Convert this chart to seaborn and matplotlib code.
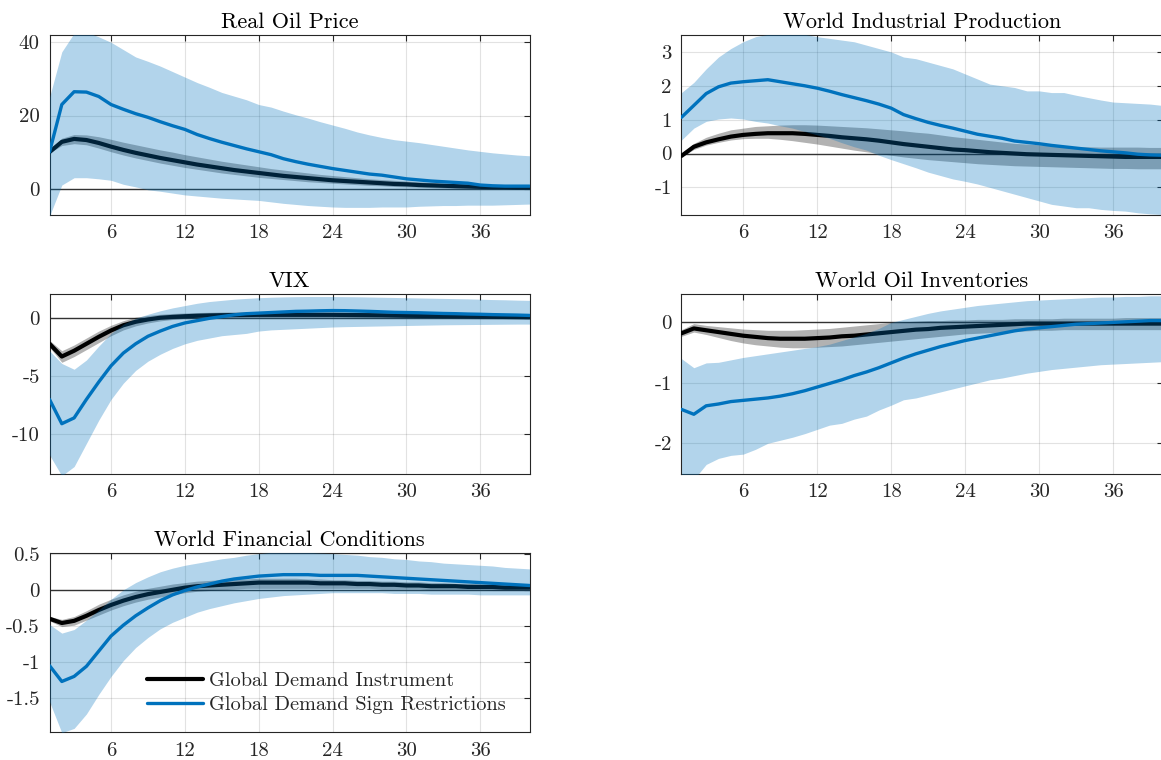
import numpy as np
import pandas as pd
import matplotlib
matplotlib.use("Agg")
import matplotlib.pyplot as plt
import seaborn as sns

# horizons
horizon = list(range(1, 41))

# ---- Real Oil Price ----
oil_inst = [10, 12.8, 13.6, 13.3, 12.5, 11.5, 10.6, 9.8, 9.1, 8.4, 7.8, 7.2, 6.6, 6.1, 5.6, 5.1, 4.7, 4.3, 3.9, 3.5,
            3.2, 2.9, 2.6, 2.3, 2.1, 1.9, 1.7, 1.5, 1.3, 1.2, 1.0, 0.9, 0.8, 0.7, 0.6, 0.5, 0.4, 0.4, 0.3, 0.3]
oil_inst_hi = [10.2, 13.8, 14.8, 14.7, 14.2, 13.5, 12.7, 12.0, 11.3, 10.6, 10.0, 9.3, 8.7, 8.1, 7.5, 7.0, 6.5, 6.0, 5.5, 5.1,
               4.7, 4.3, 3.9, 3.6, 3.3, 3.0, 2.7, 2.5, 2.3, 2.1, 1.9, 1.7, 1.5, 1.4, 1.2, 1.1, 1.0, 0.9, 0.8, 0.7]
oil_inst_lo = [9.8, 11.8, 12.3, 12.0, 11.1, 10.1, 9.2, 8.4, 7.7, 7.0, 6.4, 5.8, 5.3, 4.8, 4.3, 3.9, 3.5, 3.1, 2.8, 2.5,
               2.2, 1.9, 1.7, 1.5, 1.3, 1.1, 0.9, 0.8, 0.6, 0.5, 0.4, 0.3, 0.2, 0.1, 0.1, 0.0, 0.0, -0.1, -0.1, -0.1]
oil_sign = [10, 23, 26.5, 26.4, 25.2, 23, 21.7, 20.5, 19.5, 18.3, 17.2, 16.2, 14.8, 13.7, 12.7, 11.8, 10.9, 10.1, 9.3, 8.2,
            7.4, 6.7, 6.1, 5.5, 5.0, 4.5, 4.0, 3.7, 3.2, 2.7, 2.4, 2.1, 1.9, 1.7, 1.5, 1.0, 0.8, 0.7, 0.7, 0.7]
oil_sign_hi = [25, 37.4, 42.5, 42.8, 41.5, 40, 38, 36, 34.8, 33.5, 32, 30.5, 29, 27.7, 26.3, 25.3, 24.3, 23, 22.3, 21.2,
               20.2, 19.3, 18.3, 17.4, 16.5, 15.5, 14.7, 14, 13.4, 13, 12.6, 12.1, 11.6, 11.1, 10.6, 10.2, 9.8, 9.5, 9.2, 9.0]
oil_sign_lo = [-7.5, 1, 3, 3, 2.7, 2.3, 1.2, 0.5, -0.3, -0.7, -1.2, -1.7, -2, -2.3, -2.6, -2.8, -3, -3.2, -3.6, -4,
               -4.3, -4.6, -4.8, -5, -5.1, -5.1, -5.1, -5.0, -5.0, -5.0, -4.8, -4.7, -4.6, -4.6, -4.5, -4.5, -4.5, -4.4, -4.3, -4.2]

# ---- World Industrial Production ----
ip_inst = [-0.07, 0.2, 0.33, 0.42, 0.5, 0.55, 0.58, 0.6, 0.6, 0.6, 0.58, 0.55, 0.52, 0.48, 0.45, 0.42, 0.38, 0.33, 0.28, 0.24,
           0.2, 0.16, 0.12, 0.1, 0.07, 0.04, 0.02, 0.0, -0.02, -0.03, -0.04, -0.05, -0.06, -0.07, -0.08, -0.09, -0.1, -0.1, -0.1, -0.1]
ip_inst_hi = [-0.02, 0.3, 0.48, 0.6, 0.7, 0.75, 0.8, 0.82, 0.84, 0.85, 0.85, 0.84, 0.82, 0.8, 0.78, 0.76, 0.73, 0.7, 0.67, 0.63,
              0.6, 0.55, 0.5, 0.46, 0.42, 0.38, 0.34, 0.3, 0.28, 0.26, 0.24, 0.22, 0.2, 0.2, 0.19, 0.19, 0.19, 0.19, 0.18, 0.18]
ip_inst_lo = [-0.1, 0.12, 0.25, 0.33, 0.4, 0.44, 0.45, 0.45, 0.42, 0.38, 0.33, 0.28, 0.22, 0.16, 0.1, 0.05, 0.0, -0.05, -0.1, -0.14,
              -0.18, -0.21, -0.24, -0.27, -0.3, -0.32, -0.34, -0.36, -0.37, -0.38, -0.39, -0.4, -0.41, -0.42, -0.43, -0.44, -0.44, -0.45, -0.45, -0.45]
ip_sign = [1.07, 1.42, 1.77, 1.97, 2.08, 2.12, 2.15, 2.18, 2.12, 2.06, 2.0, 1.93, 1.84, 1.74, 1.65, 1.56, 1.46, 1.34, 1.15, 1.03,
           0.92, 0.83, 0.75, 0.66, 0.57, 0.51, 0.45, 0.37, 0.33, 0.29, 0.24, 0.2, 0.16, 0.12, 0.08, 0.05, 0.02, -0.02, -0.04, -0.05]
ip_sign_hi = [1.8, 2.1, 2.5, 2.85, 3.1, 3.3, 3.45, 3.52, 3.55, 3.55, 3.52, 3.45, 3.4, 3.35, 3.3, 3.2, 3.1, 3.0, 2.85, 2.8,
              2.7, 2.6, 2.5, 2.35, 2.2, 2.05, 2.0, 1.95, 1.85, 1.85, 1.8, 1.8, 1.72, 1.65, 1.58, 1.52, 1.5, 1.48, 1.46, 1.42]
ip_sign_lo = [0.4, 0.75, 0.95, 1.02, 1.05, 1.02, 0.95, 0.9, 0.82, 0.75, 0.65, 0.55, 0.45, 0.32, 0.2, 0.1, -0.05, -0.18, -0.3, -0.42,
              -0.55, -0.65, -0.75, -0.82, -0.9, -1.0, -1.1, -1.2, -1.3, -1.4, -1.5, -1.55, -1.6, -1.6, -1.65, -1.68, -1.7, -1.75, -1.78, -1.8]

# ---- VIX ----
vix_inst = [-2.2, -3.3, -2.8, -2.2, -1.6, -1.05, -0.6, -0.3, -0.1, 0.05, 0.12, 0.18, 0.22, 0.25, 0.27, 0.28, 0.29, 0.3, 0.3, 0.3,
            0.3, 0.3, 0.3, 0.3, 0.29, 0.28, 0.27, 0.26, 0.24, 0.22, 0.21, 0.2, 0.19, 0.18, 0.17, 0.15, 0.14, 0.12, 0.11, 0.1]
vix_inst_hi = [-1.9, -2.8, -2.3, -1.7, -1.1, -0.6, -0.2, 0.1, 0.25, 0.35, 0.42, 0.46, 0.5, 0.52, 0.54, 0.55, 0.56, 0.56, 0.56, 0.56,
               0.56, 0.55, 0.55, 0.54, 0.53, 0.52, 0.51, 0.5, 0.48, 0.46, 0.45, 0.44, 0.42, 0.41, 0.4, 0.38, 0.37, 0.35, 0.34, 0.33]
vix_inst_lo = [-2.5, -3.8, -3.3, -2.7, -2.1, -1.5, -1.0, -0.65, -0.4, -0.22, -0.1, 0.0, 0.02, 0.04, 0.05, 0.06, 0.06, 0.07, 0.07, 0.07,
               0.07, 0.07, 0.06, 0.06, 0.06, 0.05, 0.05, 0.04, 0.03, 0.02, 0.01, 0.0, -0.01, -0.02, -0.03, -0.04, -0.05, -0.06, -0.07, -0.08]
vix_sign = [-7.0, -9.1, -8.6, -7.0, -5.5, -4.1, -3.0, -2.2, -1.55, -1.1, -0.7, -0.4, -0.2, 0.0, 0.15, 0.3, 0.4, 0.45, 0.5, 0.55,
            0.6, 0.62, 0.65, 0.67, 0.66, 0.63, 0.6, 0.56, 0.52, 0.5, 0.48, 0.45, 0.42, 0.4, 0.37, 0.35, 0.32, 0.3, 0.28, 0.25]
vix_sign_hi = [-2.8, -3.9, -4.4, -3.6, -2.4, -1.3, -0.5, 0.0, 0.35, 0.65, 0.9, 1.1, 1.3, 1.45, 1.55, 1.65, 1.72, 1.78, 1.82, 1.85,
               1.87, 1.88, 1.88, 1.88, 1.87, 1.86, 1.84, 1.82, 1.8, 1.78, 1.76, 1.74, 1.72, 1.7, 1.68, 1.65, 1.62, 1.6, 1.57, 1.55]
vix_sign_lo = [-11.8, -13.6, -12.8, -10.8, -8.8, -7.0, -5.6, -4.5, -3.7, -3.1, -2.6, -2.2, -1.9, -1.7, -1.5, -1.4, -1.3, -1.1, -1.0, -0.95,
               -0.9, -0.85, -0.8, -0.75, -0.72, -0.7, -0.68, -0.66, -0.64, -0.62, -0.6, -0.58, -0.56, -0.55, -0.54, -0.53, -0.52, -0.51, -0.5, -0.5]

# ---- World Oil Inventories ----
inv_inst = [-0.18, -0.1, -0.13, -0.16, -0.19, -0.22, -0.24, -0.26, -0.27, -0.27, -0.27, -0.26, -0.25, -0.23, -0.22, -0.2, -0.18, -0.16, -0.14, -0.12,
            -0.11, -0.09, -0.08, -0.07, -0.06, -0.05, -0.04, -0.03, -0.02, -0.02, -0.02, -0.02, -0.02, -0.02, -0.02, -0.02, -0.02, -0.02, -0.02, -0.02]
inv_inst_hi = [-0.12, -0.02, -0.05, -0.07, -0.09, -0.11, -0.12, -0.13, -0.13, -0.13, -0.12, -0.11, -0.1, -0.08, -0.06, -0.04, -0.02, 0.0, 0.01, 0.02,
               0.03, 0.03, 0.04, 0.04, 0.05, 0.05, 0.05, 0.06, 0.06, 0.06, 0.06, 0.07, 0.07, 0.07, 0.07, 0.07, 0.08, 0.08, 0.08, 0.08]
inv_inst_lo = [-0.23, -0.16, -0.2, -0.25, -0.3, -0.34, -0.37, -0.39, -0.41, -0.42, -0.42, -0.41, -0.4, -0.39, -0.37, -0.35, -0.33, -0.31, -0.29, -0.27,
               -0.25, -0.23, -0.21, -0.19, -0.18, -0.17, -0.16, -0.15, -0.14, -0.13, -0.13, -0.12, -0.12, -0.12, -0.12, -0.12, -0.12, -0.12, -0.12, -0.12]
inv_sign = [-1.44, -1.52, -1.38, -1.35, -1.31, -1.29, -1.27, -1.25, -1.22, -1.18, -1.13, -1.07, -1.01, -0.95, -0.88, -0.82, -0.75, -0.67, -0.59, -0.52,
            -0.46, -0.4, -0.35, -0.3, -0.26, -0.22, -0.18, -0.14, -0.11, -0.09, -0.07, -0.05, -0.03, -0.02, -0.01, 0.0, 0.01, 0.02, 0.03, 0.03]
inv_sign_hi = [-0.6, -0.75, -0.67, -0.66, -0.62, -0.58, -0.55, -0.52, -0.49, -0.46, -0.43, -0.4, -0.36, -0.3, -0.24, -0.18, -0.1, 0.0, 0.05, 0.1,
               0.15, 0.19, 0.22, 0.25, 0.28, 0.3, 0.32, 0.34, 0.36, 0.37, 0.38, 0.39, 0.4, 0.41, 0.42, 0.42, 0.43, 0.43, 0.44, 0.44]
inv_sign_lo = [-2.55, -2.6, -2.35, -2.25, -2.2, -2.18, -2.1, -2.0, -1.95, -1.9, -1.84, -1.77, -1.7, -1.67, -1.6, -1.55, -1.45, -1.37, -1.28, -1.25,
               -1.2, -1.15, -1.1, -1.05, -1.0, -0.95, -0.92, -0.88, -0.84, -0.81, -0.78, -0.76, -0.74, -0.72, -0.7, -0.69, -0.68, -0.67, -0.66, -0.65]

# ---- World Financial Conditions ----
fin_inst = [-0.4, -0.46, -0.43, -0.36, -0.28, -0.21, -0.15, -0.1, -0.06, -0.03, 0.0, 0.03, 0.05, 0.06, 0.07, 0.08, 0.09, 0.1, 0.1, 0.1,
            0.1, 0.1, 0.09, 0.09, 0.09, 0.08, 0.08, 0.07, 0.07, 0.06, 0.06, 0.05, 0.05, 0.05, 0.04, 0.04, 0.04, 0.03, 0.03, 0.03]
fin_inst_hi = [-0.37, -0.41, -0.37, -0.29, -0.2, -0.13, -0.07, -0.02, 0.02, 0.05, 0.08, 0.1, 0.12, 0.13, 0.14, 0.15, 0.15, 0.16, 0.16, 0.16,
               0.16, 0.15, 0.15, 0.14, 0.14, 0.13, 0.13, 0.12, 0.12, 0.11, 0.11, 0.1, 0.1, 0.09, 0.09, 0.08, 0.08, 0.08, 0.07, 0.07]
fin_inst_lo = [-0.43, -0.51, -0.49, -0.42, -0.35, -0.28, -0.22, -0.17, -0.13, -0.1, -0.07, -0.04, -0.02, -0.01, 0.0, 0.01, 0.02, 0.02, 0.02, 0.02,
               0.02, 0.02, 0.02, 0.02, 0.02, 0.02, 0.02, 0.01, 0.01, 0.01, 0.01, 0.0, 0.0, 0.0, 0.0, 0.0, -0.01, -0.01, -0.01, -0.01]
fin_sign = [-1.05, -1.27, -1.2, -1.06, -0.85, -0.64, -0.49, -0.36, -0.25, -0.15, -0.07, -0.01, 0.04, 0.08, 0.12, 0.15, 0.17, 0.19, 0.2, 0.21,
            0.21, 0.21, 0.2, 0.2, 0.2, 0.2, 0.19, 0.18, 0.17, 0.16, 0.15, 0.14, 0.13, 0.12, 0.11, 0.1, 0.09, 0.08, 0.07, 0.06]
fin_sign_hi = [-0.48, -0.6, -0.55, -0.42, -0.28, -0.13, 0.0, 0.1, 0.18, 0.25, 0.3, 0.34, 0.37, 0.4, 0.43, 0.45, 0.48, 0.5, 0.52, 0.52,
               0.52, 0.52, 0.51, 0.5, 0.49, 0.48, 0.46, 0.45, 0.43, 0.42, 0.4, 0.39, 0.37, 0.36, 0.35, 0.34, 0.33, 0.31, 0.3, 0.29]
fin_sign_lo = [-1.55, -1.98, -1.92, -1.72, -1.45, -1.2, -0.98, -0.8, -0.66, -0.54, -0.45, -0.38, -0.31, -0.26, -0.22, -0.18, -0.15, -0.12, -0.1, -0.08,
               -0.07, -0.06, -0.05, -0.04, -0.04, -0.04, -0.04, -0.04, -0.05, -0.05, -0.05, -0.06, -0.06, -0.06, -0.06, -0.07, -0.07, -0.07, -0.07, -0.07]

titles = ["Real Oil Price", "World Industrial Production", "VIX", "World Oil Inventories", "World Financial Conditions"]
ylims = [(-7.05, 42), (-1.8, 3.5), (-13.4, 2.1), (-2.5, 0.47), (-1.97, 0.51)]
yticks = [[0, 20, 40], [-1, 0, 1, 2, 3], [-10, -5, 0], [-2, -1, 0], [-1.5, -1, -0.5, 0, 0.5]]
yticklabels = [["0", "20", "40"], ["-1", "0", "1", "2", "3"], ["-10", "-5", "0"], ["-2", "-1", "0"],
               ["-1.5", "-1", "-0.5", "0", "0.5"]]
xticks = [6, 12, 18, 24, 30, 36]

panels = [
    (oil_inst, oil_inst_lo, oil_inst_hi, oil_sign, oil_sign_lo, oil_sign_hi),
    (ip_inst, ip_inst_lo, ip_inst_hi, ip_sign, ip_sign_lo, ip_sign_hi),
    (vix_inst, vix_inst_lo, vix_inst_hi, vix_sign, vix_sign_lo, vix_sign_hi),
    (inv_inst, inv_inst_lo, inv_inst_hi, inv_sign, inv_sign_lo, inv_sign_hi),
    (fin_inst, fin_inst_lo, fin_inst_hi, fin_sign, fin_sign_lo, fin_sign_hi),
]

sns.set_style("white")
plt.rcParams["font.family"] = ["cmr10", "DejaVu Serif"]
plt.rcParams["axes.formatter.use_mathtext"] = True

blue = "#0072BD"
W, H = 1161, 760
fig = plt.figure(figsize=(W / 100, H / 100), dpi=100)

# axes boxes in pixels: left, top, right, bottom
boxes = [(49.5, 35, 529.5, 214.5), (681.5, 35, 1162.5, 214.5),
         (49.5, 294, 529.5, 473.5), (681.5, 294, 1162.5, 473.5),
         (49.5, 553, 529.5, 732)]

for i, (box, data) in enumerate(zip(boxes, panels)):
    l, t, r, b = box
    ax = fig.add_axes([l / W, 1 - b / H, (r - l) / W, (b - t) / H])
    inst, inst_lo, inst_hi, sign, sign_lo, sign_hi = data
    df = pd.DataFrame({"h": horizon, "inst": inst, "sign": sign})

    ax.grid(True, color="#262626", alpha=0.13, lw=0.8)
    ax.axhline(0, color="#333333", lw=1.0, zorder=1)
    ax.fill_between(horizon, inst_lo, inst_hi, color="black", alpha=0.3, lw=0, zorder=2)
    sns.lineplot(data=df, x="h", y="inst", ax=ax, color="black", lw=3.0, zorder=3,
                 label="Global Demand Instrument")
    ax.fill_between(horizon, sign_lo, sign_hi, color=blue, alpha=0.3, lw=0, zorder=4)
    sns.lineplot(data=df, x="h", y="sign", ax=ax, color=blue, lw=2.4, zorder=5,
                 label="Global Demand Sign Restrictions")

    ax.set_xlim(1, 40)
    ax.set_ylim(*ylims[i])
    ax.set_xticks(xticks)
    ax.set_xticklabels([str(x) for x in xticks])
    ax.set_yticks(yticks[i])
    ax.set_yticklabels(yticklabels[i])
    ax.set_xlabel("")
    ax.set_ylabel("")
    ax.set_title(titles[i], fontsize=16, color="black", pad=5)
    ax.tick_params(direction="in", top=True, right=True, length=4, width=0.8,
                   labelsize=15, colors="#262626", pad=7)
    for s in ax.spines.values():
        s.set_color("#262626")
        s.set_linewidth(0.8)
    if i == 4:
        ax.legend(loc="lower left", bbox_to_anchor=(0.166, 0.0), frameon=False, fontsize=14.6,
                  handlelength=2.75, handletextpad=0.3, labelspacing=0.25)
    else:
        ax.get_legend().remove()

fig.savefig("out.png", dpi=100)
